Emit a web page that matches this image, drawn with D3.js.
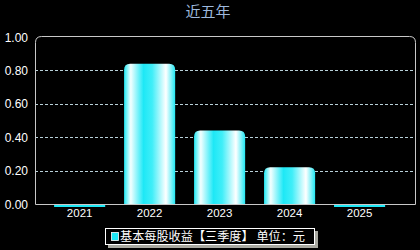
<!DOCTYPE html>
<html>
<head>
<meta charset="utf-8">
<script src="https://d3js.org/d3.v7.min.js"></script>
<style>
	body { margin: 0; background: #000; }
	svg { display: block; }
	text { font-family: "Liberation Sans", "Noto Sans CJK SC", sans-serif; }
	.cjk { font-family: "Noto Sans CJK SC", sans-serif; }
</style>
</head>
<body>
<div id="chart"></div>
<script>
	// data
	var years = ["2021", "2022", "2023", "2024", "2025"];
	var eps = [-0.012, 0.84, 0.44, 0.22, -0.012];
	var yTicks = [0, 0.2, 0.4, 0.6, 0.8, 1.0];
	var title = "近五年";
	var legendLabel = "基本每股收益【三季度】 单位：元";

	var width = 420, height = 250;
	var margin = {top: 37, right: 5, bottom: 46, left: 35};

	var svg = d3.select("#chart").append("svg")
		.attr("width", width)
		.attr("height", height)
		.style("background", "#000");

	var x = d3.scaleBand()
		.domain(years)
		.range([margin.left, width - margin.right])
		.paddingInner(0.27)
		.paddingOuter(0.35)
		.align(0.39);

	var y = d3.scaleLinear()
		.domain([0, 1])
		.range([height - margin.bottom, margin.top]);

	// bar gradient
	var defs = svg.append("defs");
	var grad = defs.append("linearGradient")
		.attr("id", "barGrad")
		.attr("x1", "0%").attr("x2", "100%")
		.attr("y1", "0%").attr("y2", "0%");
	[[0, "#20e8f4"], [0.13, "#f4ffff"], [0.38, "#1ee8f6"], [0.55, "#40eef8"], [0.82, "#ffffff"], [1, "#20e8f4"]]
		.forEach(function(s) {
			grad.append("stop").attr("offset", s[0]).attr("stop-color", s[1]);
		});

	// title
	svg.append("text")
		.attr("class", "cjk")
		.attr("x", 208)
		.attr("y", 17)
		.attr("text-anchor", "middle")
		.attr("fill", "#9db8dc")
		.style("font-size", "15px")
		.text(title);

	// grid lines
	svg.selectAll(".grid")
		.data(yTicks.filter(function(d) { return d > 0 && d < 1; }))
		.enter().append("line")
		.attr("class", "grid")
		.attr("x1", margin.left)
		.attr("x2", width - margin.right)
		.attr("y1", function(d) { return Math.round(y(d)) + 0.5; })
		.attr("y2", function(d) { return Math.round(y(d)) + 0.5; })
		.attr("stroke", "#b8d0d8")
		.attr("stroke-dasharray", "3,2");

	// frame with rounded top corners
	var L = margin.left + 0.5, R = width - margin.right + 0.5;
	var T = margin.top - 0.5, B = height - margin.bottom + 0.5, r = 6;
	svg.append("path")
		.attr("d", "M" + L + "," + B + "V" + (T + r) + "Q" + L + "," + T + " " + (L + r) + "," + T +
			"H" + (R - r) + "Q" + R + "," + T + " " + R + "," + (T + r) + "V" + B + "Z")
		.attr("fill", "none")
		.attr("stroke", "#c8c8c8")
		.attr("stroke-width", 1);

	// y axis labels
	svg.selectAll(".ylab")
		.data(yTicks)
		.enter().append("text")
		.attr("class", "ylab")
		.attr("x", 28)
		.attr("y", function(d) { return y(d) + 4.5; })
		.attr("text-anchor", "end")
		.attr("fill", "#fff")
		.style("font-size", "12px")
		.text(function(d) { return d3.format(".2f")(d); });

	// bars
	function barPath(d, i) {
		var x0 = x(years[i]), w = x.bandwidth();
		var y0 = y(0), y1 = y(d);
		if (d <= 0) {
			return "M" + x0 + "," + (y0 + 1) + "H" + (x0 + w) + "V" + (y(d) + 1) + "H" + x0 + "Z";
		}
		var rr = 6;
		return "M" + x0 + "," + y0 + "V" + (y1 + rr) + "Q" + x0 + "," + y1 + " " + (x0 + rr) + "," + y1 +
			"H" + (x0 + w - rr) + "Q" + (x0 + w) + "," + y1 + " " + (x0 + w) + "," + (y1 + rr) + "V" + y0 + "Z";
	}
	svg.selectAll(".bar")
		.data(eps)
		.enter().append("path")
		.attr("class", "bar")
		.attr("d", barPath)
		.attr("fill", function(d) { return d > 0 ? "url(#barGrad)" : "#1ee8f6"; });

	// x labels
	svg.selectAll(".xlab")
		.data(years)
		.enter().append("text")
		.attr("class", "xlab")
		.attr("x", function(d) { return x(d) + x.bandwidth() / 2; })
		.attr("y", 217)
		.attr("text-anchor", "middle")
		.attr("fill", "#fff")
		.style("font-size", "11.5px")
		.text(function(d) { return d; });

	// legend
	var lg = svg.append("g");
	lg.append("rect")
		.attr("x", 108).attr("y", 231)
		.attr("width", 210).attr("height", 17)
		.attr("fill", "#a8a8a0");
	lg.append("rect")
		.attr("x", 105.5).attr("y", 228.5)
		.attr("width", 209).attr("height", 16)
		.attr("fill", "#000")
		.attr("stroke", "#fff");
	lg.append("rect")
		.attr("x", 111.5).attr("y", 232.5)
		.attr("width", 7).attr("height", 8)
		.attr("fill", "#1ee8f6")
		.attr("stroke", "#fff")
		.attr("stroke-width", 0.8);
	lg.append("text")
		.attr("class", "cjk")
		.attr("x", 120)
		.attr("y", 241)
		.attr("fill", "#fff")
		.attr("textLength", 185)
		.attr("lengthAdjust", "spacingAndGlyphs")
		.style("font-size", "12px")
		.text(legendLabel);
</script>
</body>
</html>
